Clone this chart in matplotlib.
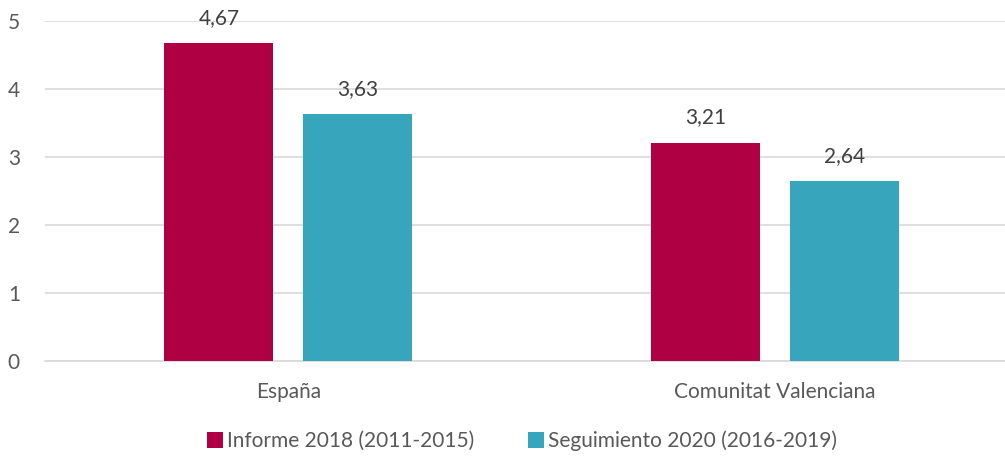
import matplotlib
matplotlib.use("Agg")
import matplotlib.pyplot as plt
import numpy as np

categories = ["España", "Comunitat Valenciana"]
series_names = ["Informe 2018 (2011-2015)", "Seguimiento 2020 (2016-2019)"]
informe_2018 = [4.67, 3.21]
seguimiento_2020 = [3.63, 2.64]
yticks = [0, 1, 2, 3, 4, 5]

colors = ["#AE0042", "#37A6BC"]

plt.rcParams['font.family'] = ['Lato', 'DejaVu Sans']

fig = plt.figure(figsize=(10.05, 4.57), dpi=100)
ax = fig.add_axes([45/1005, 96/457, 973/1005, 340/457])

x = np.arange(len(categories))
w = 0.224
off = 0.1425
for vals, c, name, o in [(informe_2018, colors[0], series_names[0], -off),
                         (seguimiento_2020, colors[1], series_names[1], off)]:
    bars = ax.bar(x + o, vals, width=w, color=c, label=name, zorder=3)
    for b, v in zip(bars, vals):
        ax.annotate(f"{v:.2f}".replace(".", ","), (b.get_x() + b.get_width()/2, v),
                    xytext=(0, 11), textcoords="offset points", ha="center", va="bottom",
                    fontsize=15, color="#404040")

ax.set_xlim(-0.5, 1.5)
ax.set_ylim(0, 5)
ax.set_yticks(yticks)
ax.set_yticklabels([str(t) for t in yticks])
ax.yaxis.grid(True, color="#D9D9D9", linewidth=1.2, zorder=0)
ax.set_axisbelow(True)
for s in ["top", "right", "left"]:
    ax.spines[s].set_visible(False)
ax.spines["bottom"].set_color("#D9D9D9")
ax.spines["bottom"].set_linewidth(1.2)
ax.tick_params(axis="y", length=0, pad=18, labelsize=15, labelcolor="#595959")
ax.tick_params(axis="x", length=0, pad=15, labelsize=15, labelcolor="#595959")
ax.set_xticks(x)
ax.set_xticklabels(categories)

leg = fig.legend(loc="center", bbox_to_anchor=(522/1005, 1 - 441/457), ncol=2, frameon=False,
                 fontsize=15, handlelength=0.75, handleheight=0.75, handletextpad=0.2,
                 columnspacing=2.6, labelcolor="#595959")

fig.savefig("out.png", dpi=100)
